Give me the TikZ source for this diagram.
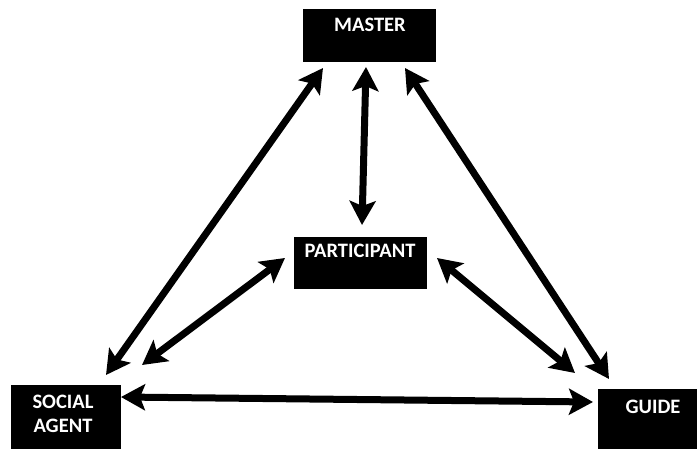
\documentclass[tikz,border=0pt]{standalone}
\usepackage{fontspec}
\setmainfont{Carlito}
\usetikzlibrary{arrows.meta,calc}
\begin{document}
\begin{tikzpicture}[x=1pt,y=1pt,
  box/.style={draw=none,fill=black,inner sep=0pt},
  txt/.style={text=white,font=\fontsize{20.5}{24}\selectfont\bfseries,inner sep=0pt},
  link/.style={line width=7pt,{Stealth[length=24pt,width=26pt,inset=5pt]}-{Stealth[length=24pt,width=26pt,inset=5pt]}}]
\useasboundingbox[fill=white] (0,0) rectangle (697,448);
% boxes
\node[box,minimum width=133pt,minimum height=53pt] (master) at (369.5,412.5) {};
\node[box,minimum width=133pt,minimum height=52pt] (part) at (360.5,185) {};
\node[box,minimum width=110pt,minimum height=68pt] (social) at (66,29) {};
\node[box,minimum width=110pt,minimum height=64pt] (guide) at (653,27) {};
% texts
\node[txt,anchor=base] (mastertxt) at (370,416) {MASTER};
\node[txt,anchor=base] (parttxt) at (360,190) {PARTICIPANT};
\node[txt,anchor=base] (soctxt) at (63,40) {SOCIAL};
\node[txt,anchor=base] (agenttxt) at (63,16) {AGENT};
\node[txt,anchor=base] (guidetxt) at (653,35) {GUIDE};
% arrow end points
\coordinate (ms1) at (323,380); \coordinate (ms2) at (106,73);
\coordinate (mp1) at (366,381); \coordinate (mp2) at (362,223);
\coordinate (mg1) at (405,380); \coordinate (mg2) at (609,69);
\coordinate (ps1) at (285,190); \coordinate (ps2) at (142,83);
\coordinate (pg1) at (437,190); \coordinate (pg2) at (575,75);
\coordinate (sg1) at (121,51);  \coordinate (sg2) at (593,46);
% arrows
\draw[link] (ms1) -- (ms2);
\draw[link] (mp1) -- (mp2);
\draw[link] (mg1) -- (mg2);
\draw[link] (ps1) -- (ps2);
\draw[link] (pg1) -- (pg2);
\draw[link] (sg1) -- (sg2);
\end{tikzpicture}
\end{document}
